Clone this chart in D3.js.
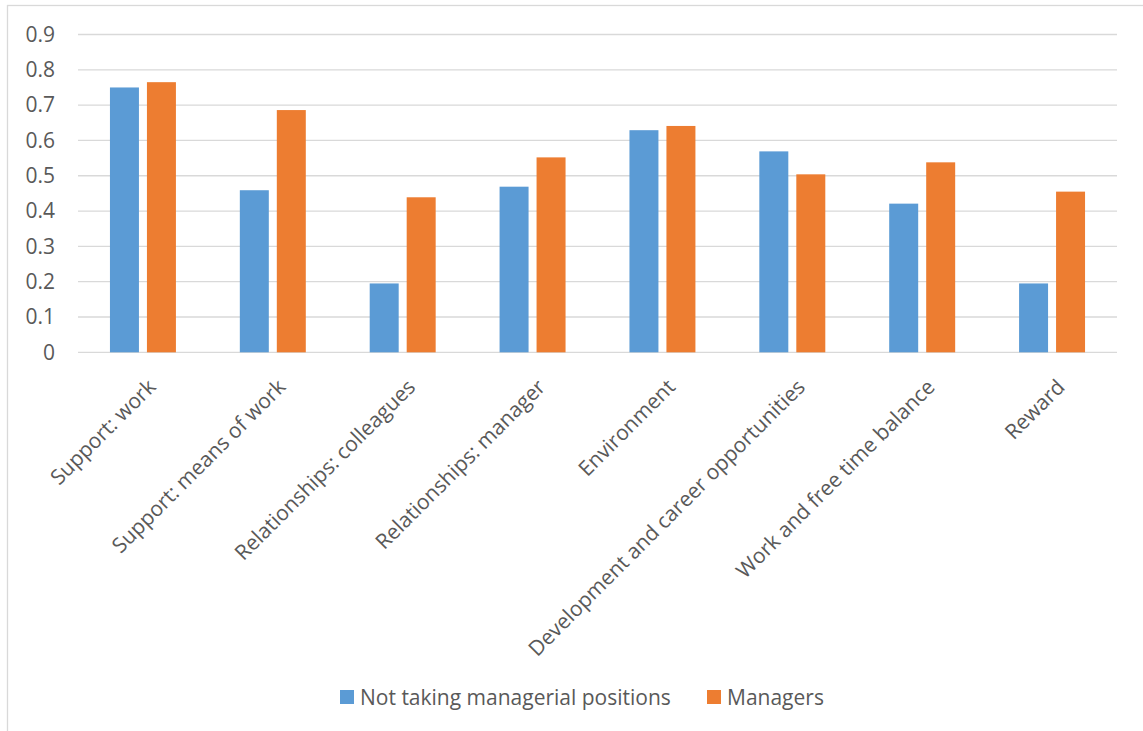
<!DOCTYPE html>
<html>
<head>
<meta charset="utf-8">
<script src="https://cdn.jsdelivr.net/npm/d3@7"></script>
<style>
  body { margin: 0; background: #fff; }
  svg { display: block; font-family: "Open Sans", "Noto Sans", sans-serif; }
</style>
</head>
<body>
<div id="chart"></div>
<script>
// values
var categories = [
  "Support: work",
  "Support: means of work",
  "Relationships: colleagues",
  "Relationships: manager",
  "Environment",
  "Development and career opportunities",
  "Work and free time balance",
  "Reward"
];
var seriesNames = ["Not taking managerial positions", "Managers"];
var notManagers = [0.75, 0.459, 0.195, 0.469, 0.629, 0.569, 0.421, 0.195];
var managers = [0.765, 0.686, 0.439, 0.552, 0.641, 0.504, 0.538, 0.455];
var yTicks = [0, 0.1, 0.2, 0.3, 0.4, 0.5, 0.6, 0.7, 0.8, 0.9];
var colors = ["#5B9BD5", "#ED7D31"];

var svgWidth = 1143, svgHeight = 731;
var plot = { left: 78, right: 1117, top: 34.5, bottom: 352.3 };
var textColor = "#595959";
var gridColor = "#D9D9D9";
var fontSize = 21;

var svg = d3.select("#chart").append("svg")
  .attr("width", svgWidth)
  .attr("height", svgHeight);

// outer chart border
svg.append("rect")
  .attr("x", 7.5).attr("y", 5.5)
  .attr("width", 1145).attr("height", 735)
  .attr("fill", "#fff")
  .attr("stroke", gridColor)
  .attr("stroke-width", 1.3);

var x0 = d3.scaleBand()
  .domain(categories)
  .range([plot.left, plot.right]);

var x1 = d3.scaleBand()
  .domain(seriesNames)
  .range([0, x0.bandwidth()])
  .paddingInner(8 / 37)
  .paddingOuter(0.864);

var y = d3.scaleLinear()
  .domain([0, 0.9])
  .range([plot.bottom, plot.top]);

// gridlines
svg.append("g")
  .selectAll("line")
  .data(yTicks)
  .enter().append("line")
  .attr("x1", plot.left).attr("x2", plot.right)
  .attr("y1", function(d) { return y(d); })
  .attr("y2", function(d) { return y(d); })
  .attr("stroke", gridColor)
  .attr("stroke-width", 1.3);

// y axis labels
var yAxis = d3.axisLeft(y).tickValues(yTicks).tickSize(0).tickPadding(0)
  .tickFormat(function(d) { return d === 0 ? "0" : d3.format(".1f")(d); });
var yg = svg.append("g")
  .attr("transform", "translate(55,0)")
  .call(yAxis);
yg.select(".domain").remove();
yg.selectAll("text")
  .attr("fill", textColor)
  .attr("font-size", fontSize)
  .attr("font-family", "Open Sans");

// bars
var rows = categories.map(function(c, i) {
  return { cat: c, vals: [notManagers[i], managers[i]] };
});

var groups = svg.append("g")
  .selectAll("g")
  .data(rows)
  .enter().append("g")
  .attr("transform", function(d) { return "translate(" + x0(d.cat) + ",0)"; });

groups.selectAll("rect")
  .data(function(d) {
    return seriesNames.map(function(s, j) { return { s: s, v: d.vals[j], j: j }; });
  })
  .enter().append("rect")
  .attr("x", function(d) { return x1(d.s); })
  .attr("width", x1.bandwidth())
  .attr("y", function(d) { return y(d.v); })
  .attr("height", function(d) { return y(0) - y(d.v); })
  .attr("fill", function(d) { return colors[d.j]; });

// x axis category labels, rotated
var xAxis = d3.axisBottom(x0).tickSize(0).tickPadding(0);
var xg = svg.append("g")
  .attr("transform", "translate(0," + plot.bottom + ")")
  .call(xAxis);
xg.select(".domain").remove();
xg.selectAll("text")
  .attr("fill", textColor)
  .attr("font-size", fontSize)
  .attr("font-family", "Open Sans")
  .attr("text-anchor", "end")
  .attr("dy", 0)
  .attr("y", 0)
  .attr("transform", "translate(14,36) rotate(-45)");

// legend
var legendItems = [
  { name: seriesNames[0], color: colors[0], x: 340 },
  { name: seriesNames[1], color: colors[1], x: 707 }
];
var lg = svg.append("g")
  .selectAll("g")
  .data(legendItems)
  .enter().append("g")
  .attr("transform", function(d) { return "translate(" + d.x + ",690)"; });
lg.append("rect")
  .attr("width", 14).attr("height", 14)
  .attr("fill", function(d) { return d.color; });
lg.append("text")
  .attr("x", 20).attr("y", 14.5)
  .attr("fill", textColor)
  .attr("font-size", fontSize)
  .text(function(d) { return d.name; });
</script>
</body>
</html>
